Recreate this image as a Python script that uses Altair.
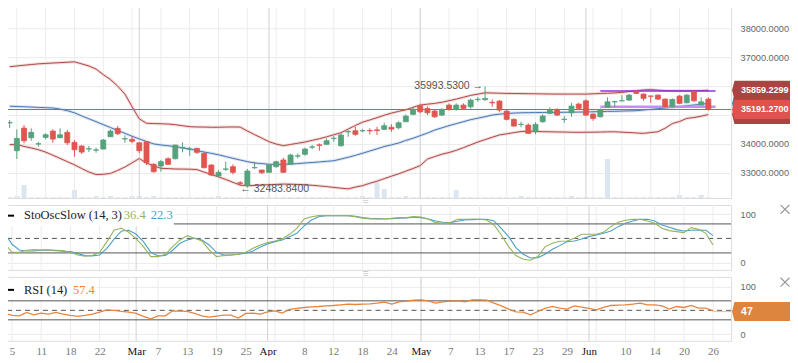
import altair as alt
import pandas as pd

# ---------------- data ----------------
OPEN = [34725, 33761, 34547, 34211, 33993, 34225, 34443, 34211, 34398, 34052,
        33924, 33820, 33780, 33820, 34246, 34537, 34170, 34156, 34038, 34073,
        33290, 33231, 33484, 33484, 33860, 33810, 33844, 33671, 33266, 32885,
        33120, 33207, 32650, 32550, 33170, 33093, 33013, 33207, 33440, 33290,
        33575, 33637, 33885, 33965, 33983, 34185, 33935, 34415, 34455, 34450,
        34465, 34485, 34502, 34572, 34557, 34766, 35022, 35320, 35230, 35136,
        34998, 35344, 35195, 35344, 35285, 35535, 35530, 35440, 35483, 35136,
        34849, 34670, 34651, 34420, 34766, 35057, 35195, 34845, 35077, 35379,
        35493, 35032, 34939, 35264, 35455, 35490, 35517, 35829, 35725, 35660,
        35690, 35552, 35285, 35656, 35424, 35804, 35344, 35552]
HIGH = [34825, 34502, 34651, 34537, 34073, 34364, 34502, 34537, 34478, 34132,
        33959, 33924, 33865, 34166, 34502, 34617, 34295, 34270, 34040, 34097,
        33325, 33440, 33533, 33965, 34052, 33900, 33865, 33706, 33290, 33093,
        33380, 33290, 32712, 33125, 33380, 33100, 33300, 33415, 33520, 33660,
        33671, 33865, 33959, 34018, 34190, 34280, 34364, 34478, 34590, 34512,
        34537, 34590, 34731, 34680, 34780, 35022, 35287, 35368, 35300, 35195,
        35230, 35403, 35403, 35403, 35575, 35630, 35993.53, 35540, 35517, 35170,
        34884, 34766, 34710, 34750, 35022, 35265, 35230, 34963, 35424, 35424,
        35541, 35057, 35230, 35611, 35493, 35690, 35725, 35863, 35749, 35665,
        35714, 35576, 35576, 35690, 35725, 35839, 35611, 35611]
LOW = [34547, 33474, 34018, 34108, 33900, 34156, 34038, 34200, 33959, 33553,
       33647, 33716, 33692, 33815, 34240, 34305, 34038, 34018, 33671, 33266,
       33000, 33034, 33266, 33460, 33706, 33588, 33647, 33152, 32885, 32861,
       33058, 32944, 32551, 32483.84, 33128, 32955, 33010, 33173, 33000, 33280,
       33498, 33588, 33820, 33761, 33959, 34073, 33900, 34246, 34280, 34398,
       34330, 34305, 34478, 34420, 34500, 34766, 34990, 35057, 35000, 34905,
       34960, 35146, 35146, 35170, 35220, 35460, 35500, 35285, 35112, 34815,
       34592, 34572, 34340, 34330, 34731, 35022, 34963, 34731, 34939, 35195,
       34963, 34800, 34918, 35264, 35264, 35488, 35493, 35725, 35493, 35424,
       35517, 35250, 35264, 35379, 35403, 35458, 35344, 35146]
CLOSE = [34740, 34191, 34108, 34398, 34003, 34315, 34166, 34315, 34038, 33796,
         33716, 33830, 33790, 34132, 34443, 34350, 34180, 34087, 33761, 33346,
         33034, 33380, 33290, 33959, 33870, 33820, 33706, 33173, 32920, 33013,
         33130, 33013, 32630, 33058, 33180, 33000, 33266, 33380, 33013, 33612,
         33585, 33820, 33895, 33950, 34108, 34195, 34305, 34425, 34330, 34460,
         34450, 34460, 34627, 34513, 34731, 34963, 35195, 35112, 35077, 34940,
         35195, 35195, 35344, 35230, 35517, 35545, 35575, 35420, 35170, 34849,
         34617, 34680, 34364, 34675, 34963, 35171, 34998, 34855, 35309, 35230,
         34998, 34883, 35171, 35458, 35465, 35495, 35690, 35749, 35576, 35650,
         35552, 35285, 35541, 35403, 35690, 35493, 35458, 35191.27]
BB_UPPER = [36674, 36701, 36726, 36750, 36774, 36788, 36802, 36816, 36829, 36843,
            36774, 36701, 36591, 36400, 36230, 36002, 35725, 35288, 34866, 34714,
            34703, 34696, 34686, 34665, 34630, 34596, 34585, 34582, 34575, 34575,
            34582, 34585, 34582, 34447, 34319, 34201, 34076, 33993, 33938, 33979,
            34021, 34063, 34121, 34177, 34243, 34315, 34385, 34513, 34637, 34752,
            34828, 34907, 34991, 35067, 35126, 35181, 35264, 35347, 35375, 35403,
            35441, 35496, 35552, 35614, 35680, 35725, 35770, 35763, 35756, 35749,
            35746, 35742, 35739, 35735, 35732, 35728, 35725, 35725, 35725, 35725,
            35725, 35735, 35746, 35756, 35766, 35784, 35815, 35843, 35870, 35881,
            35863, 35846, 35839, 35839, 35839, 35839, 35846, 35859.23]
BB_MIDDLE = [35306, 35295, 35285, 35275, 35264, 35254, 35243, 35205, 35150, 35077,
             34970, 34869, 34769, 34665, 34565, 34464, 34367, 34263, 34170, 34083,
             33997, 33962, 33934, 33903, 33862, 33820, 33768, 33716, 33671, 33619,
             33560, 33498, 33439, 33384, 33339, 33315, 33290, 33290, 33290, 33301,
             33315, 33335, 33353, 33373, 33394, 33415, 33474, 33533, 33602, 33675,
             33751, 33827, 33907, 33966, 34028, 34118, 34194, 34284, 34374, 34478,
             34554, 34631, 34700, 34769, 34838, 34890, 34942, 34998, 35032, 35050,
             35067, 35077, 35081, 35084, 35088, 35091, 35091, 35095, 35098, 35102,
             35105, 35112, 35119, 35126, 35129, 35136, 35143, 35150, 35174, 35195,
             35219, 35243, 35267, 35295, 35320, 35347, 35375, 35403]
BB_LOWER = [33972, 33979, 33910, 33858, 33796, 33713, 33605, 33495, 33384, 33273,
            33145, 33024, 32937, 32944, 32975, 33079, 33197, 33342, 33491, 33332,
            33238, 33152, 33141, 33128, 33124, 33121, 33107, 33020, 32937, 32854,
            32764, 32667, 32570, 32546, 32560, 32573, 32584, 32594, 32605, 32601,
            32591, 32580, 32563, 32542, 32518, 32490, 32463, 32439, 32501, 32550,
            32633, 32705, 32792, 32878, 32961, 33052, 33145, 33245, 33474, 33557,
            33640, 33699, 33775, 33869, 33966, 34063, 34146, 34229, 34309, 34347,
            34389, 34427, 34440, 34433, 34423, 34419, 34412, 34409, 34402, 34399,
            34402, 34405, 34409, 34416, 34419, 34405, 34392, 34378, 34364, 34392,
            34419, 34544, 34703, 34776, 34883, 34911, 34960, 35015]
VOLUME = [0.4, 1, 6.6, 0.4, 0.4, 0.4, 0.4, 0.4, 0.4, 4,
          0.4, 0.4, 1, 0.4, 1, 0.4, 0.4, 1, 1, 0.4,
          1, 0.4, 0.4, 0.4, 0.4, 0.4, 0.4, 0.4, 0.4, 1,
          0.4, 0.4, 0.4, 0.4, 0.4, 0.4, 0.4, 0.4, 0.4, 0.4,
          0.4, 0.4, 0.4, 0.4, 0.4, 0.4, 0.4, 0.4, 0.4, 1,
          0.4, 8, 4.5, 0.4, 0.4, 1, 0.4, 0.4, 0.4, 0.4,
          0.4, 0.4, 4, 0.4, 0.4, 0.4, 0.4, 0.4, 0.4, 0.4,
          0.4, 1, 0.5, 0.4, 0.4, 0.4, 0.4, 0.4, 1, 0.4,
          0.5, 0.4, 0.4, 19.7, 0.4, 0.4, 0.4, 0.4, 0.4, 0.5,
          0.4, 0.4, 0.4, 1.5, 0.4, 0.4, 1.5, 0.4]
STOCH_K = [40, 21.3, 21.3, 25.5, 26.9, 26.2, 26.2, 25.5, 24.8, 21.3,
           15.8, 13.1, 14.5, 21.3, 43.4, 67.5, 70.9, 62.7, 48.9, 33.1,
           12.4, 12.4, 17.2, 33.1, 46.8, 55.8, 50.3, 44.8, 26.2, 12.4,
           14.5, 15.8, 17.2, 21.3, 29.6, 36.5, 41.3, 44.8, 48.9, 58.5,
           70.9, 90.2, 95, 97.1, 97.1, 97.1, 97.1, 97.1, 95, 91.6,
           90.2, 90.2, 90.2, 91.6, 93, 93, 95, 94.4, 90.2, 82.6,
           81.3, 82.6, 89.5, 89.5, 90.2, 89.5, 88.2, 77.8, 57.2, 33.1,
           14.5, 6.9, 4.8, 12.4, 33.1, 39.9, 44.1, 44.8, 50.3, 58.5,
           58.5, 58.5, 62.7, 74.4, 83.3, 87.5, 89.5, 89.5, 86.1, 81.3,
           70.9, 66.1, 64, 62, 72.3, 68.9, 60.6, 36.4]
STOCH_D = [60.6, 37.9, 26.2, 24.1, 24.1, 25.5, 25.5, 24.8, 23.4, 22.7,
           18.6, 14.5, 13.8, 15.8, 29.6, 48.9, 65.4, 66.8, 58.5, 43.4,
           21.3, 13.8, 14.5, 25.5, 39.9, 46.8, 50.3, 46.8, 36.5, 21.3,
           15.8, 15.8, 17.2, 19.3, 24.1, 32.4, 38.6, 43.4, 46.8, 53.7,
           60.6, 75.8, 88.2, 95, 97.1, 97.1, 97.1, 97.1, 95.7, 93,
           91.6, 90.9, 90.2, 90.9, 91.6, 92.3, 93.7, 93, 90.2, 86.1,
           83.3, 82.6, 85.4, 88.2, 88.8, 89.5, 89.5, 86.1, 70.9, 53.7,
           31, 17.2, 9.6, 10.3, 17.2, 27.5, 35.1, 43.4, 44.8, 48.9,
           53.7, 57.2, 60.6, 65.4, 74.4, 81.3, 86.1, 89.5, 89.5, 86.1,
           77.8, 73, 68.2, 65.4, 66.8, 67.5, 66.8, 55.8]
RSI = [44.1, 39.2, 38.5, 45.5, 40.6, 44.1, 42, 45.5, 42, 39.2,
       37.1, 39.2, 42, 46.2, 51.1, 49.7, 47.6, 46.2, 43.4, 37.1,
       32.2, 38.5, 38.5, 49, 48.3, 47.6, 43.4, 38.5, 35.7, 37.8,
       39.9, 39.9, 33.6, 43.4, 44.1, 42, 46.9, 49, 44.1, 51.8,
       53.9, 56, 57.4, 58.1, 59.5, 60.2, 61.6, 63, 62.3, 63,
       63.7, 65.1, 67.2, 63, 67.9, 69.3, 71.4, 72.1, 70, 65.1,
       67.9, 69.3, 70, 67.9, 72.1, 72.1, 71.4, 65.1, 59.5, 52.5,
       46.9, 46.2, 40.6, 47.6, 53.9, 58.1, 54.6, 52.5, 59.5, 56.7,
       53.9, 51.1, 56, 60.2, 60.9, 61.6, 63, 65.1, 61.6, 61.6,
       59.5, 52.5, 58.1, 56, 60.2, 54.6, 54.6, 49]

TICK_POS = [1, 5, 9, 13, 18, 21, 25, 29, 33, 36, 41, 45, 49, 53, 57, 61, 65, 69, 73, 77,
            80, 85, 89, 93, 97]
TICK_LABELS = ["5", "11", "18", "22", "Mar", "7", "13", "19", "25", "Apr", "8", "12", "18",
               "24", "May", "7", "13", "17", "23", "29", "Jun", "10", "14", "20", "26"]
MONTH_POS = [18, 36, 57, 80]
GRID_POS = [1, 5, 9, 13, 17, 21, 25, 29, 33, 37, 41, 45, 49, 53, 57, 61, 65, 69, 73, 77,
            81, 85, 89, 93, 97]
PRICE_TICKS = [33000, 34000, 35000, 36000, 37000, 38000]
HIDDEN_PRICE_LABELS = [35000, 36000]   # covered by the value boxes in the picture

LAST_PRICE = 35191.27
HIGH_MARK = (66, 35993.53, "35993.5300 \u2192")
LOW_MARK = (33, 32483.84, "\u2190 32483.8400")
CHANNEL_LEVELS = [35829, 35285]
CHANNEL_START, CHANNEL_END = 82, 98
BOX_VALUES = [35015, 35403, 35859.23, 35191.27]
BOX_COLORS = ["#a94442", "#4a76b2", "#a94442", "#e0524f"]
BOX_TEXTS = [("35859.2299", 35859.23), ("35191.2700", 35191.27)]
STOCH_TITLE, STOCH_K_TXT, STOCH_D_TXT = "StoOscSlow (14, 3)", "36.4", "22.3"
RSI_TITLE, RSI_TXT, RSI_BOX_TXT, RSI_BOX_VAL = "RSI (14)", "57.4", "47", 47.5

# ---------------- styling / layout ----------------
W = 731
H_MAIN, H_STO, H_RSI = 198, 65, 64
SANS = "Liberation Sans"
SERIF = "Liberation Serif"
GREEN, RED = "#55a27c", "#e15550"
K_COLOR, D_COLOR, RSI_COLOR = "#97b45c", "#4aa0c6", "#e8843c"
GRID_C, MONTH_C = "#ececec", "#d2d2d2"

N = len(CLOSE)
df = pd.DataFrame({"i": list(range(N)), "open": OPEN, "high": HIGH, "low": LOW,
                   "close": CLOSE, "bb_up": BB_UPPER, "bb_mid": BB_MIDDLE,
                   "bb_low": BB_LOWER, "vol": VOLUME, "k": STOCH_K, "d": STOCH_D,
                   "rsi": RSI})
grid_df = pd.DataFrame({"pos": GRID_POS})
month_df = pd.DataFrame({"pos": MONTH_POS})
one = pd.DataFrame({"a": [0]})

xs = alt.Scale(domain=[-0.505, 99.46], nice=False, zero=False)
ps = alt.Scale(domain=[32123, 38980], nice=False, zero=False)
ss = alt.Scale(domain=[-15.1, 119.2], nice=False, zero=False)
rs = alt.Scale(domain=[-14.1, 120.4], nice=False, zero=False)


def right_axis(values, fmt=None, expr=None):
    kw = dict(orient="right", values=values, title=None, grid=True, gridColor="#ebebeb",
              ticks=False, tickSize=0, domain=False, labelColor="#666", labelFont=SANS,
              labelFontSize=9.2, labelPadding=9, minExtent=0, zindex=0)
    if fmt:
        kw["format"] = fmt
    if expr:
        kw["labelExpr"] = expr
    return alt.Axis(**kw)


hide_test = " || ".join(f"datum.value == {v}" for v in HIDDEN_PRICE_LABELS)
P_AXIS = right_axis(PRICE_TICKS, ".4f", f"({hide_test}) ? '' : datum.label")
S_AXIS = right_axis([0, 100])
R_AXIS = right_axis([0, 100])

lab = [""] * 100
for p, l in zip(TICK_POS, TICK_LABELS):
    lab[p] = l
label_expr = "[" + ",".join("'" + s + "'" for s in lab) + "][datum.value]"
month_test = "indexof([" + ",".join(str(m) for m in MONTH_POS) + "], datum.value) >= 0"
X_AXIS = alt.Axis(orient="bottom", values=TICK_POS, labelExpr=label_expr, title=None,
                  grid=False, ticks=False, tickSize=0, domain=False, labelFont=SERIF,
                  labelFontSize=11, minExtent=0,
                  labelColor={"condition": {"test": month_test, "value": "#111"},
                              "value": "#777"},
                  labelPadding=5, labelFlush=False, labelOverlap=False, labelBound=False)


def XE(field, axis):
    return alt.X(f"{field}:Q", scale=xs, axis=axis)


def YE(field, scale, axis):
    return alt.Y(f"{field}:Q", scale=scale, axis=axis)


def vgrid_layers(xaxis):
    return [
        alt.Chart(grid_df).mark_rule(color=GRID_C, strokeWidth=1).encode(x=XE("pos", xaxis)),
        alt.Chart(month_df).mark_rule(color=MONTH_C, strokeWidth=1).encode(x=XE("pos", xaxis)),
    ]


up = alt.condition("datum.close >= datum.open", alt.value(GREEN), alt.value(RED))

# ---------------- main price panel ----------------
vol = alt.Chart(df).mark_bar(color="#dbe6f2", size=5).encode(
    x=XE("i", None), y=alt.Y("vol:Q", scale=alt.Scale(domain=[0, 100]), axis=None))


def band(field, core, halo):
    base = alt.Chart(df).encode(x=XE("i", None), y=YE(field, ps, P_AXIS))
    return [base.mark_line(color=halo, strokeWidth=3, opacity=0.55),
            base.mark_line(color=core, strokeWidth=1)]


price_layers = vgrid_layers(None)
price_layers += band("bb_up", "#b04a47", "#e6b9b8")
price_layers += band("bb_low", "#b04a47", "#e6b9b8")
price_layers += band("bb_mid", "#4a76b2", "#b9cbe5")

price_layers.append(
    alt.Chart(pd.DataFrame({"p": [LAST_PRICE]})).mark_rule(color="#d9534f", strokeWidth=1.2)
    .encode(y=YE("p", ps, P_AXIS)))

chan_df = pd.DataFrame({"p": CHANNEL_LEVELS, "x0": [CHANNEL_START] * 2,
                        "x1": [CHANNEL_END] * 2, "c": ["#9132dc", "#c98df2"],
                        "w": [1.5, 2.5]})
price_layers.append(
    alt.Chart(chan_df).mark_rule().encode(
        x=XE("x0", None), x2="x1:Q", y=YE("p", ps, P_AXIS),
        color=alt.Color("c:N", scale=None), strokeWidth=alt.StrokeWidth("w:Q", scale=None)))

price_layers.append(
    alt.Chart(df).mark_rule(strokeWidth=1).encode(
        x=XE("i", None), y=YE("low", ps, P_AXIS), y2="high:Q", color=up))
price_layers.append(
    alt.Chart(df).mark_bar(size=5, strokeWidth=0.8).encode(
        x=XE("i", None), y=YE("open", ps, P_AXIS), y2="close:Q", color=up, stroke=up))

hi_df = pd.DataFrame({"i": [HIGH_MARK[0]], "p": [HIGH_MARK[1]], "t": [HIGH_MARK[2]]})
lo_df = pd.DataFrame({"i": [LOW_MARK[0]], "p": [LOW_MARK[1]], "t": [LOW_MARK[2]]})
price_layers.append(
    alt.Chart(hi_df).mark_text(align="right", dx=-2, font=SANS, fontSize=10.5, color="#555")
    .encode(x=XE("i", None), y=YE("p", ps, P_AXIS), text="t:N"))
price_layers.append(
    alt.Chart(lo_df).mark_text(align="left", dx=-7, dy=1, font=SANS, fontSize=10.5, color="#555")
    .encode(x=XE("i", None), y=YE("p", ps, P_AXIS), text="t:N"))

# value boxes at the right edge (60 px wide, ~19 px high, pointed on the left)
BOX_PATH = "M-1,0L-0.92,-0.317L1,-0.317L1,0.317L-0.92,0.317Z"
BOX_SIZE, BOX_X = 3600, 762
box_df = pd.DataFrame({"p": BOX_VALUES, "c": BOX_COLORS})
price_layers.append(
    alt.Chart(box_df).mark_point(shape=BOX_PATH, size=BOX_SIZE, filled=True, opacity=1,
                                 strokeWidth=0)
    .encode(x=alt.value(BOX_X), y=YE("p", ps, P_AXIS), color=alt.Color("c:N", scale=None)))
bt_df = pd.DataFrame({"t": [b[0] for b in BOX_TEXTS], "p": [b[1] for b in BOX_TEXTS]})
price_layers.append(
    alt.Chart(bt_df).mark_text(align="left", font=SANS, fontSize=9, fontWeight="bold",
                               color="white")
    .encode(x=alt.value(741), y=YE("p", ps, P_AXIS), text="t:N"))

main = alt.layer(vol, alt.layer(*price_layers)).resolve_scale(y="independent").properties(
    width=W, height=H_MAIN)

CLOSE_PATH = "M-1,-1L1,1M-1,1L1,-1"


def close_icon(yv):
    return alt.Chart(one).mark_point(shape=CLOSE_PATH, size=80, filled=False,
                                     color="#9a9a9a", strokeWidth=1.2, opacity=1).encode(
        x=alt.value(785), y=alt.value(yv))


def handle(yv):
    return alt.Chart(one).mark_text(text="\u2261", font=SANS, fontSize=11,
                                    color="#cfcfcf").encode(x=alt.value(365), y=alt.value(yv))


# ---------------- stochastic panel ----------------
sto_layers = vgrid_layers(None)
sto_layers.append(
    alt.Chart(pd.DataFrame({"v": [80, 20]})).mark_rule(color="#555", strokeWidth=1)
    .encode(y=YE("v", ss, S_AXIS)))
sto_layers.append(
    alt.Chart(pd.DataFrame({"v": [50]})).mark_rule(color="#555", strokeWidth=1, strokeDash=[5, 4])
    .encode(y=YE("v", ss, S_AXIS)))
sto_layers.append(alt.Chart(df).mark_line(color=D_COLOR, strokeWidth=1.1).encode(
    x=XE("i", None), y=YE("d", ss, S_AXIS)))
sto_layers.append(alt.Chart(df).mark_line(color=K_COLOR, strokeWidth=1.1).encode(
    x=XE("i", None), y=YE("k", ss, S_AXIS)))
sto_layers.append(alt.Chart(one).mark_rect(color="white").encode(
    x=alt.value(0), x2=alt.value(173), y=alt.value(1), y2=alt.value(21)))
sto_layers.append(alt.Chart(one).mark_rule(color="black", strokeWidth=2).encode(
    x=alt.value(6.5), x2=alt.value(13), y=alt.value(10.7)))
for txt, xv, col in [(STOCH_TITLE, 23, "#222"), (STOCH_K_TXT, 123, K_COLOR),
                     (STOCH_D_TXT, 150, D_COLOR)]:
    sto_layers.append(alt.Chart(one).mark_text(
        text=txt, align="left", baseline="middle", font=SERIF, fontSize=12.5, color=col)
        .encode(x=alt.value(xv), y=alt.value(10.5)))
sto_layers.append(close_icon(4.3))
sto_layers.append(handle(-4))
sto = alt.layer(*sto_layers).properties(width=W, height=H_STO)

# ---------------- RSI panel ----------------
rsi_layers = vgrid_layers(X_AXIS)
rsi_layers.append(
    alt.Chart(df).transform_calculate(top="max(datum.rsi, 70)").mark_area(
        color="#a9d58e", opacity=0.9).encode(
        x=XE("i", X_AXIS), y=YE("top", rs, R_AXIS), y2=alt.datum(70)))
rsi_layers.append(
    alt.Chart(pd.DataFrame({"v": [70, 30]})).mark_rule(color="#555", strokeWidth=1)
    .encode(y=YE("v", rs, R_AXIS)))
rsi_layers.append(
    alt.Chart(pd.DataFrame({"v": [50]})).mark_rule(color="#555", strokeWidth=1, strokeDash=[5, 4])
    .encode(y=YE("v", rs, R_AXIS)))
rsi_layers.append(
    alt.Chart(pd.DataFrame({"x0": [N - 1], "x1": [99.46], "v": [RSI_BOX_VAL]}))
    .mark_rule(color="#f3c29c", strokeWidth=1.2)
    .encode(x=XE("x0", X_AXIS), x2="x1:Q", y=YE("v", rs, R_AXIS)))
rsi_layers.append(alt.Chart(df).mark_line(color=RSI_COLOR, strokeWidth=1.3).encode(
    x=XE("i", X_AXIS), y=YE("rsi", rs, R_AXIS)))
rsi_layers.append(alt.Chart(one).mark_rect(color="white").encode(
    x=alt.value(0), x2=alt.value(96), y=alt.value(3), y2=alt.value(22)))
rsi_layers.append(alt.Chart(one).mark_rule(color="black", strokeWidth=2).encode(
    x=alt.value(6.5), x2=alt.value(13), y=alt.value(13)))
for txt, xv, col in [(RSI_TITLE, 23, "#222"), (RSI_TXT, 72, RSI_COLOR)]:
    rsi_layers.append(alt.Chart(one).mark_text(
        text=txt, align="left", baseline="middle", font=SERIF, fontSize=12.5, color=col)
        .encode(x=alt.value(xv), y=alt.value(12.8)))
rsi_layers.append(
    alt.Chart(pd.DataFrame({"v": [RSI_BOX_VAL]})).mark_point(
        shape=BOX_PATH, size=BOX_SIZE, filled=True, opacity=1, strokeWidth=0, color="#dd843f")
    .encode(x=alt.value(BOX_X), y=YE("v", rs, R_AXIS)))
rsi_layers.append(
    alt.Chart(pd.DataFrame({"v": [RSI_BOX_VAL], "t": [RSI_BOX_TXT]})).mark_text(
        align="left", font=SANS, fontSize=10.5, fontWeight="bold", color="white")
    .encode(x=alt.value(741), y=YE("v", rs, R_AXIS), text="t:N"))
rsi_layers.append(close_icon(5.3))
rsi_layers.append(handle(-3))
rsi = alt.layer(*rsi_layers).properties(width=W, height=H_RSI)

chart = alt.vconcat(main, sto, rsi, spacing=7, bounds="flush").properties(
    padding={"left": -9, "top": -9, "right": -3, "bottom": -2},
    background="white",
).configure_view(stroke="#dcdcdc", strokeWidth=1)

chart.save("out.html", embed_options={"renderer": "svg", "actions": False})
